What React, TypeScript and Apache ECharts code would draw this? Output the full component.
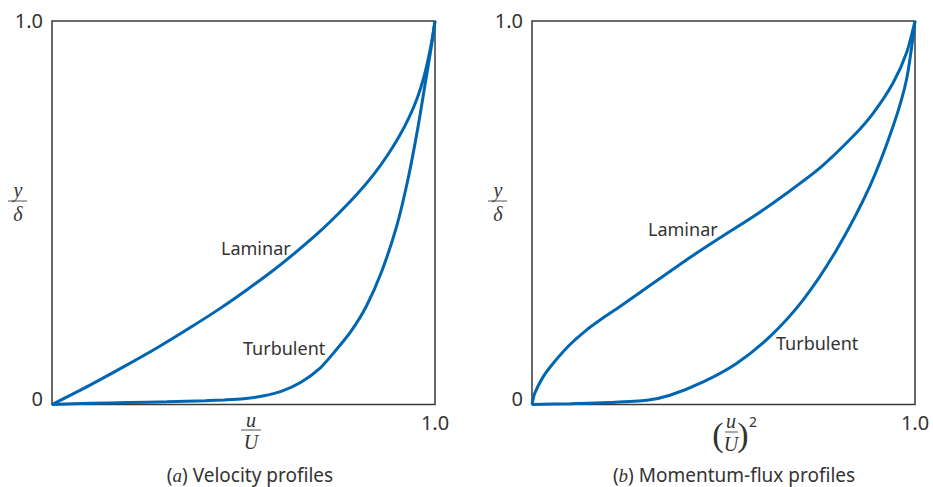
import React, { useEffect, useRef } from "react";
import * as echarts from "echarts";

// Velocity profiles (a): x = u/U, y = y/δ
const velLaminarX = [0, 0.098, 0.19, 0.278, 0.36, 0.438, 0.51, 0.578, 0.64, 0.698, 0.75, 0.798, 0.84, 0.876, 0.907, 0.933, 0.954, 0.97, 0.982, 0.992, 1.0];
const velLaminarY = [0, 0.05, 0.1, 0.15, 0.2, 0.25, 0.3, 0.35, 0.4, 0.45, 0.5, 0.55, 0.6, 0.65, 0.7, 0.75, 0.8, 0.85, 0.9, 0.95, 1.0];
const velTurbX = [0, 0.1, 0.2, 0.3, 0.4, 0.45, 0.5, 0.55, 0.6, 0.65, 0.7, 0.74, 0.78, 0.82, 0.86, 0.9, 0.93, 0.955, 0.975, 0.99, 1.0];
const velTurbY = [0, 0.003, 0.005, 0.007, 0.01, 0.012, 0.015, 0.022, 0.035, 0.058, 0.095, 0.14, 0.19, 0.255, 0.345, 0.465, 0.59, 0.72, 0.84, 0.93, 1.0];

// Momentum-flux profiles (b): x = (u/U)^2, y = y/δ
const momLaminarX = [0, 0.007, 0.029, 0.055, 0.098, 0.142, 0.186, 0.229, 0.316, 0.403, 0.49, 0.578, 0.665, 0.752, 0.839, 0.891, 0.943, 0.978, 1.0];
const momLaminarY = [0, 0.029, 0.072, 0.107, 0.155, 0.194, 0.226, 0.255, 0.316, 0.377, 0.434, 0.49, 0.551, 0.617, 0.7, 0.76, 0.839, 0.917, 1.0];
const momTurbX = [0, 0.1, 0.2, 0.3, 0.36, 0.447, 0.534, 0.621, 0.708, 0.795, 0.882, 0.943, 0.978, 1.0];
const momTurbY = [0, 0.002, 0.005, 0.011, 0.024, 0.059, 0.107, 0.177, 0.273, 0.403, 0.569, 0.726, 0.848, 1.0];

const tickValues = [0, 1];
const xTickLabels = ["", "1.0"];
const yTickLabels = ["0", "1.0"];
const curveNames = ["Laminar", "Turbulent"];
const captions = ["Velocity profiles", "Momentum-flux profiles"];
const captionLetters = ["a", "b"];

const BLUE = "#0066b2";
const TEXT = "#333333";
const SANS = "'Noto Sans', sans-serif";
const SERIF = "'Liberation Serif', 'DejaVu Serif', serif";

const pairs = (xs: number[], ys: number[]) => xs.map((x, i) => [x, ys[i]]);

export default function App() {
  const ref = useRef<HTMLDivElement>(null);
  useEffect(() => {
    if (!ref.current) return;
    const chart = echarts.init(ref.current, null, { renderer: "svg" });
    const gridLefts = [52, 532];
    const grids = gridLefts.map((left) => ({
      left,
      top: 21,
      width: 383,
      height: 383.5,
      show: true,
      borderColor: "#3a3a3a",
      borderWidth: 1.5,
      backgroundColor: "transparent",
    }));
    const xAxes = gridLefts.map((_, i) => ({
      type: "value",
      gridIndex: i,
      min: 0,
      max: 1,
      interval: 1,
      axisLine: { show: false },
      axisTick: { show: false },
      splitLine: { show: false },
      axisLabel: {
        margin: 8,
        color: TEXT,
        fontFamily: SANS,
        fontSize: 20,
        formatter: (v: number) => xTickLabels[tickValues.indexOf(v)] ?? "",
      },
    }));
    const yAxes = gridLefts.map((_, i) => ({
      type: "value",
      gridIndex: i,
      min: 0,
      max: 1,
      interval: 1,
      axisLine: { show: false },
      axisTick: { show: false },
      splitLine: { show: false },
      axisLabel: {
        margin: 9,
        color: TEXT,
        fontFamily: SANS,
        fontSize: 20,
        formatter: (v: number) => {
          const t = yTickLabels[tickValues.indexOf(v)] ?? "";
          return v === 0 ? `{lo|${t}}` : `{hi|${t}}`;
        },
        rich: {
          lo: { fontSize: 20, fontFamily: SANS, color: TEXT, padding: [0, 0, 12, 0] },
          hi: { fontSize: 20, fontFamily: SANS, color: TEXT, padding: [0, 0, 2, 0] },
        },
      },
    }));
    const lineSeries = (name: string, idx: number, data: number[][]) => ({
      type: "line",
      name,
      xAxisIndex: idx,
      yAxisIndex: idx,
      data,
      smooth: 0.25,
      showSymbol: false,
      symbol: "none",
      clip: false,
      lineStyle: { color: BLUE, width: 3 },
    });
    const txt = (x: number, y: number, text: string, extra: any = {}) => ({
      type: "text",
      x,
      y,
      style: {
        text,
        fill: TEXT,
        font: `18px ${SANS}`,
        align: "left",
        verticalAlign: "middle",
        ...extra,
      },
    });
    const fracLine = (x1: number, x2: number, y: number) => ({
      type: "line",
      shape: { x1, y1: y, x2, y2: y },
      style: { stroke: "#555", lineWidth: 1 },
    });
    const italic = (x: number, y: number, text: string, size = 20) =>
      txt(x, y, text, { font: `italic ${size}px ${SERIF}`, align: "center" });
    const caption = (x: number, i: number) => ({
      type: "text",
      x,
      y: 475,
      style: {
        text: `({i|${captionLetters[i]}}) ${captions[i]}`,
        fill: TEXT,
        font: `19px ${SANS}`,
        align: "center",
        verticalAlign: "middle",
        rich: { i: { font: `italic 19px ${SERIF}`, fill: TEXT } },
      },
    });

    const graphics: any[] = [
      // curve labels
      txt(221, 248, curveNames[0]),
      txt(243, 348, curveNames[1]),
      txt(648, 229, curveNames[0]),
      txt(776, 343, curveNames[1]),
      // y/δ left
      italic(18, 190, "y"),
      fracLine(8, 27, 201),
      italic(18, 214, "δ"),
      // y/δ right
      italic(498, 190, "y"),
      fracLine(488, 507, 201),
      italic(498, 214, "δ"),
      // u/U left
      italic(251, 420, "u"),
      fracLine(241, 261, 430),
      italic(251, 442, "U"),
      // (u/U)^2 right
      txt(718, 434, "(", { font: `34px ${SERIF}`, align: "center" }),
      italic(731, 421, "u"),
      fracLine(725, 738, 432),
      italic(731, 444, "U"),
      txt(743, 434, ")", { font: `34px ${SERIF}`, align: "center" }),
      txt(753, 421, "2", { font: `14px ${SANS}`, align: "center" }),
      // captions
      caption(250, 0),
      caption(734, 1),
    ];

    chart.setOption({
      animation: false,
      backgroundColor: "#ffffff",
      grid: grids,
      xAxis: xAxes,
      yAxis: yAxes,
      series: [
        lineSeries("Laminar (a)", 0, pairs(velLaminarX, velLaminarY)),
        lineSeries("Turbulent (a)", 0, pairs(velTurbX, velTurbY)),
        lineSeries("Laminar (b)", 1, pairs(momLaminarX, momLaminarY)),
        lineSeries("Turbulent (b)", 1, pairs(momTurbX, momTurbY)),
      ],
      graphic: graphics,
    });
    return () => chart.dispose();
  }, []);
  return (
    <div
      ref={ref}
      style={{ position: "fixed", left: 0, top: 0, width: 933, height: 487 }}
    />
  );
}
